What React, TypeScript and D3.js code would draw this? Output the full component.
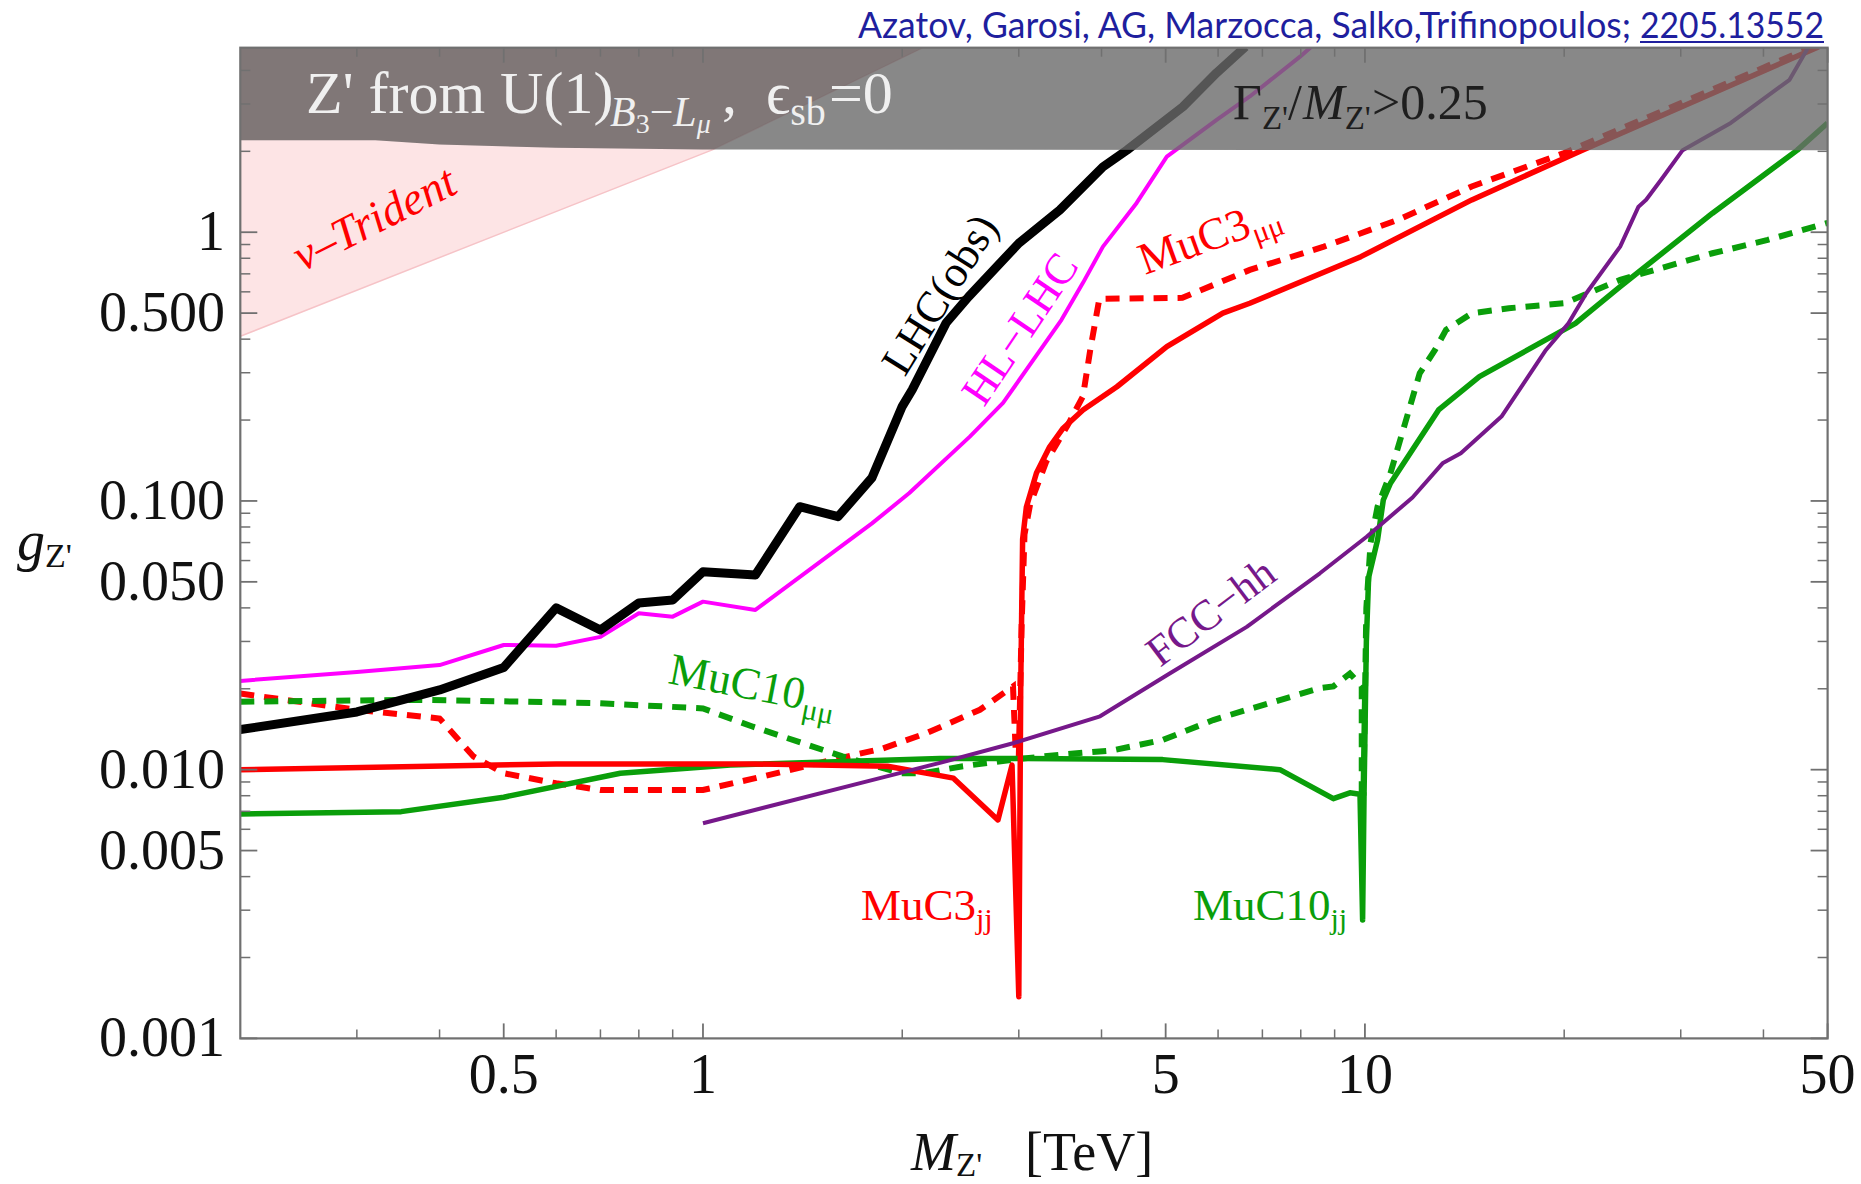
import React from 'react';
import * as d3 from 'd3';

type P = [number, number];

// ---------- data (M_Z' [TeV], g_Z') ----------
const lhcObs: P[] = [
  [0.2, 0.0141], [0.3, 0.0164], [0.4, 0.0198], [0.5, 0.024], [0.6, 0.04], [0.7, 0.0331],
  [0.8, 0.0417], [0.9, 0.0428], [1.0, 0.0545], [1.2, 0.053], [1.4, 0.0952], [1.6, 0.0874],
  [1.8, 0.122], [2.0, 0.225], [2.07, 0.259], [2.33, 0.46], [2.52, 0.576], [3.0, 0.91],
  [3.46, 1.21], [4.02, 1.75], [4.37, 2.02], [5.31, 2.93], [5.97, 3.92], [6.6, 4.9],
];
const hlLhc: P[] = [
  [0.2, 0.0214], [0.3, 0.0231], [0.4, 0.0245], [0.5, 0.0291], [0.6, 0.0289], [0.7, 0.0312],
  [0.8, 0.0382], [0.9, 0.0371], [1.0, 0.0422], [1.2, 0.0393], [1.8, 0.0825], [2.05, 0.107],
  [2.53, 0.1735], [2.84, 0.2316], [3.48, 0.472], [3.75, 0.648], [4.02, 0.884], [4.52, 1.285],
  [5.02, 1.91], [5.97, 2.62], [6.7, 3.2], [7.98, 4.5], [8.3, 4.9],
];
const muc3Solid: P[] = [
  [0.2, 0.01], [0.6, 0.0105], [1.2, 0.0105], [1.9, 0.0103], [2.28, 0.0095], [2.39, 0.0093],
  [2.79, 0.0065], [2.93, 0.0104], [3.0, 0.00143], [3.02, 0.02], [3.04, 0.072], [3.08, 0.095],
  [3.19, 0.127], [3.34, 0.159], [3.5, 0.1865], [3.75, 0.218], [4.22, 0.266], [5.02, 0.375],
  [6.1, 0.5], [6.7, 0.544], [9.86, 0.811], [14.5, 1.319], [21.3, 2.02], [48.5, 4.9],
];
const muc3Dashed: P[] = [
  [0.2, 0.0192], [0.3, 0.0167], [0.4, 0.0155], [0.45, 0.0112], [0.5, 0.0097], [0.6, 0.0089],
  [0.7, 0.0084], [1.0, 0.0084], [1.2, 0.0093], [1.5, 0.0106], [1.87, 0.012], [2.18, 0.0137],
  [2.62, 0.0167], [2.94, 0.0204], [2.97, 0.0112], [3.0, 0.0112], [3.03, 0.035], [3.06, 0.075],
  [3.12, 0.097], [3.3, 0.14], [3.55, 0.19], [3.75, 0.245], [3.85, 0.37], [3.97, 0.565],
  [5.3, 0.57], [6.7, 0.724], [8.67, 0.884], [11.2, 1.11], [14.5, 1.48], [20, 1.97], [47.4, 4.9],
];
const muc10Solid: P[] = [
  [0.2, 0.00684], [0.35, 0.00698], [0.5, 0.0079], [0.75, 0.0097], [1.1, 0.0104], [2.28, 0.011],
  [3.04, 0.011], [4.95, 0.0109], [7.44, 0.01], [8.96, 0.0078], [9.49, 0.0082], [9.83, 0.0081],
  [9.92, 0.00276], [9.97, 0.0081], [10.05, 0.03], [10.13, 0.052], [10.45, 0.0716], [10.66, 0.1008],
  [10.93, 0.1164], [12.92, 0.218], [14.89, 0.29], [20.8, 0.458], [24.3, 0.627], [33.5, 1.177],
  [45, 2.02], [50, 2.55],
];
const muc10Dashed: P[] = [
  [0.2, 0.0179], [0.37, 0.0182], [0.69, 0.0177], [1.0, 0.0169], [1.19, 0.01445], [1.625, 0.0112],
  [1.99, 0.0097], [2.15, 0.0097], [2.47, 0.0103], [2.94, 0.0109], [3.5, 0.0114], [4.16, 0.0118],
  [4.95, 0.0129], [5.9, 0.0153], [6.63, 0.0167], [8.55, 0.0201], [8.96, 0.0204], [9.49, 0.0228],
  [9.89, 0.0204], [9.89, 0.0082], [9.95, 0.0082], [10.05, 0.04], [10.2, 0.07], [10.45, 0.0952],
  [10.93, 0.127], [11.5, 0.1946], [12.1, 0.2987], [12.76, 0.3647], [13.26, 0.433], [14.51, 0.4995],
  [16.5, 0.5214], [20, 0.5443], [24.3, 0.6645], [33.5, 0.835], [40.6, 0.936], [50, 1.083],
];
const fccHh: P[] = [
  [1.0, 0.00632], [1.85, 0.0093], [2.28, 0.0106], [2.94, 0.01254], [3.98, 0.0158], [5.07, 0.0228],
  [6.63, 0.034], [8.55, 0.0538], [10.06, 0.0736], [11.8, 0.103], [13.1, 0.138], [13.96, 0.1505],
  [16.08, 0.206], [18.77, 0.3647], [20.3, 0.458], [21.6, 0.593], [24.3, 0.884], [25.9, 1.245],
  [26.6, 1.32], [28.0, 1.565], [30.2, 2.02], [35.7, 2.55], [43.8, 3.69], [46.8, 4.9],
];
const tridentEdge: P[] = [[0.2, 0.41], [1.035, 2.03], [2.15, 4.86]];
const widthBandEdge: P[] = [[0.2, 2.2], [0.32, 2.2], [0.4, 2.12], [0.6, 2.06], [1.0, 2.03], [50, 2.02]];

const xDomain: P = [0.2, 50];
const yDomain: P = [0.001, 4.86];
const xMajor = [0.5, 1, 5, 10, 50];
const xMajorLabels = ['0.5', '1', '5', '10', '50'];
const xMinor = [0.3, 0.4, 0.6, 0.7, 0.8, 0.9, 2, 3, 4, 6, 7, 8, 9, 20, 30, 40];
const yMajor = [0.001, 0.005, 0.01, 0.05, 0.1, 0.5, 1];
const yMajorLabels = ['0.001', '0.005', '0.010', '0.050', '0.100', '0.500', '1'];
const yMinor = [
  0.002, 0.003, 0.004, 0.006, 0.007, 0.008, 0.009, 0.02, 0.03, 0.04, 0.06, 0.07, 0.08, 0.09,
  0.2, 0.3, 0.4, 0.6, 0.7, 0.8, 0.9, 2, 3, 4,
];

const SERIF = '"Liberation Serif", "Times New Roman", "DejaVu Serif", serif';
const RED = '#ff0000';
const GREEN = '#0a9e0a';
const PURPLE = '#76188a';
const MAGENTA = '#ff00ff';

export default function App() {
  const W = 1861;
  const H = 1184;
  const left = 240.3, right = 1827.6, top = 47.7, bottom = 1038.4;
  const x = d3.scaleLog().domain(xDomain).range([left, right]);
  const y = d3.scaleLog().domain(yDomain).range([bottom, top]);
  const line = d3.line<P>().x((d) => x(d[0])).y((d) => y(d[1]));

  const yTop = yDomain[1];
  const bandPath =
    line([[xDomain[0], yTop * 1.2], [xDomain[1], yTop * 1.2], ...[...widthBandEdge].reverse()])! + 'Z';
  const lastTri = tridentEdge[tridentEdge.length - 1];
  const tridentPath =
    line([...tridentEdge, [lastTri[0], yTop * 2], [xDomain[0], yTop * 2]])! + 'Z';

  const frameColor = '#707070';

  return (
    <svg
      width={W}
      height={H}
      viewBox={`0 0 ${W} ${H}`}
      style={{ position: 'absolute', left: 0, top: 0, background: '#fff' }}
      fontFamily={SERIF}
    >
      <defs>
        <clipPath id="plotClip">
          <rect x={left} y={top} width={right - left} height={bottom - top} />
        </clipPath>
        <clipPath id="bandClip">
          <path d={bandPath} />
        </clipPath>
      </defs>
      <rect x={0} y={0} width={W} height={H} fill="#fff" />

      <g clipPath="url(#plotClip)">
        {/* nu-trident excluded region */}
        <path d={tridentPath} fill="#fde4e5" />
        <path d={line(tridentEdge)!} fill="none" stroke="#f6c3c7" strokeWidth={1.5} />

        {/* curves */}
        <path d={line(muc3Dashed)!} fill="none" stroke={RED} strokeWidth={6} strokeDasharray="14 10" />
        <path d={line(muc10Dashed)!} fill="none" stroke={GREEN} strokeWidth={6} strokeDasharray="14 10" />
        <path d={line(muc10Solid)!} fill="none" stroke={GREEN} strokeWidth={5.5} strokeLinejoin="round" />
        <path d={line(muc3Solid)!} fill="none" stroke={RED} strokeWidth={5.5} strokeLinejoin="round" />
        <path d={line(fccHh)!} fill="none" stroke={PURPLE} strokeWidth={4} strokeLinejoin="round" />
        <path d={line(hlLhc)!} fill="none" stroke={MAGENTA} strokeWidth={4} strokeLinejoin="round" />
        <path d={line(lhcObs)!} fill="none" stroke="#000" strokeWidth={9} strokeLinejoin="round" />

        {/* Gamma/M > 0.25 band */}
        <path d={bandPath} fill="rgb(106,106,106)" fillOpacity={0.8} />
        <g clipPath="url(#bandClip)">
          <path d={tridentPath} fill="rgb(60,20,20)" fillOpacity={0.1} />
        </g>
      </g>

      {/* band texts */}
      <text x={306} y={113} fontSize={60} fill="#f0f0f0">
        Z' from U(1)
        <tspan x={610} dy={13} fontSize={42} fontStyle="italic">B</tspan>
        <tspan dy={7} fontSize={28}>3</tspan>
        <tspan dy={-7} fontSize={42}>{'\u2212'}</tspan>
        <tspan fontSize={42} fontStyle="italic">L</tspan>
        <tspan dy={7} fontSize={28} fontStyle="italic">{'\u03bc'}</tspan>
        <tspan x={722} dy={-20} fontSize={60}>,</tspan>
        <tspan x={766} fontSize={60}>{'\u03f5'}</tspan>
        <tspan dy={12} fontSize={40}>sb</tspan>
        <tspan x={829} dy={-12} fontSize={60}>=0</tspan>
      </text>
      <text x={1233} y={119} fontSize={50} fill="#1e1e1e">
        {'\u0393'}
        <tspan dy={10} fontSize={33}>Z'</tspan>
        <tspan dy={-10} fontSize={50}>/</tspan>
        <tspan x={1303} fontStyle="italic">M</tspan>
        <tspan dy={10} fontSize={33}>Z'</tspan>
        <tspan x={1372} dy={-10} fontSize={50}>&gt;0.25</tspan>
      </text>

      {/* frame */}
      <rect x={left} y={top} width={right - left} height={bottom - top} fill="none" stroke={frameColor} strokeWidth={2.2} />
      {xMajor.map((v) => (
        <g key={'xM' + v}>
          <line x1={x(v)} x2={x(v)} y1={bottom} y2={bottom - 15} stroke={frameColor} strokeWidth={1.8} />
          <line x1={x(v)} x2={x(v)} y1={top} y2={top + 15} stroke={frameColor} strokeWidth={1.8} />
        </g>
      ))}
      {xMinor.map((v) => (
        <g key={'xm' + v}>
          <line x1={x(v)} x2={x(v)} y1={bottom} y2={bottom - 9} stroke={frameColor} strokeWidth={1.5} />
          <line x1={x(v)} x2={x(v)} y1={top} y2={top + 9} stroke={frameColor} strokeWidth={1.5} />
        </g>
      ))}
      {yMajor.map((v) => (
        <g key={'yM' + v}>
          <line x1={left} x2={left + 17} y1={y(v)} y2={y(v)} stroke={frameColor} strokeWidth={1.8} />
          <line x1={right} x2={right - 17} y1={y(v)} y2={y(v)} stroke={frameColor} strokeWidth={1.8} />
        </g>
      ))}
      {yMinor.map((v) => (
        <g key={'ym' + v}>
          <line x1={left} x2={left + 10} y1={y(v)} y2={y(v)} stroke={frameColor} strokeWidth={1.5} />
          <line x1={right} x2={right - 10} y1={y(v)} y2={y(v)} stroke={frameColor} strokeWidth={1.5} />
        </g>
      ))}

      {/* tick labels */}
      {xMajor.map((v, i) => (
        <text key={'xl' + v} x={x(v)} y={1093} fontSize={56} textAnchor="middle" fill="#111">
          {xMajorLabels[i]}
        </text>
      ))}
      {yMajor.map((v, i) => (
        <text key={'yl' + v} x={225} y={y(v) + 18} fontSize={56} textAnchor="end" fill="#111">
          {yMajorLabels[i]}
        </text>
      ))}

      {/* axis labels */}
      <text x={911} y={1170} fontSize={54} fill="#111">
        <tspan fontStyle="italic">M</tspan>
        <tspan dy={6} fontSize={33}>Z'</tspan>
        <tspan x={1025} dy={-6} fontSize={54}>[TeV]</tspan>
      </text>
      <text x={17} y={560} fontSize={56} fill="#111">
        <tspan fontStyle="italic">g</tspan>
        <tspan dy={7} fontSize={34}>Z'</tspan>
      </text>

      {/* curve labels */}
      <text transform={`translate(381,232) rotate(-27)`} fontSize={46} fontStyle="italic" fill={RED} textAnchor="middle">
        {'\u03bd\u2013Trident'}
      </text>
      <text transform={`translate(952,302) rotate(-58)`} fontSize={44} fill="#000" textAnchor="middle">
        LHC(obs)
      </text>
      <text transform={`translate(1032,337) rotate(-56)`} fontSize={44} fill={MAGENTA} textAnchor="middle">
        {'HL\u2212LHC'}
      </text>
      <text transform={`translate(1145,275) rotate(-20)`} fontSize={45} fill={RED}>
        MuC3<tspan dy={9} fontSize={30}>{'\u03bc\u03bc'}</tspan>
      </text>
      <text transform={`translate(667,683) rotate(11)`} fontSize={45} fill={GREEN}>
        MuC10<tspan dy={9} fontSize={30}>{'\u03bc\u03bc'}</tspan>
      </text>
      <text transform={`translate(1160,668) rotate(-37)`} fontSize={43} fill={PURPLE}>
        {'FCC\u2212hh'}
      </text>
      <text x={861} y={920} fontSize={45} fill={RED}>
        MuC3<tspan dy={9} fontSize={30}>jj</tspan>
      </text>
      <text x={1193} y={920} fontSize={45} fill={GREEN}>
        MuC10<tspan dy={9} fontSize={30}>jj</tspan>
      </text>

      {/* citation */}
      <text x={858} y={38} fontSize={36} fill="#1f1f9e" fontFamily='Lato, "Open Sans", sans-serif' textLength={773} lengthAdjust="spacingAndGlyphs">
        Azatov, Garosi, AG, Marzocca, Salko,Trifinopoulos;
      </text>
      <text x={1640} y={38} fontSize={36} fill="#1f1f9e" fontFamily='Lato, "Open Sans", sans-serif' textLength={184} lengthAdjust="spacingAndGlyphs">
        2205.13552
      </text>
      <line x1={1640} x2={1824} y1={42} y2={42} stroke="#1f1f9e" strokeWidth={2} />
    </svg>
  );
}
